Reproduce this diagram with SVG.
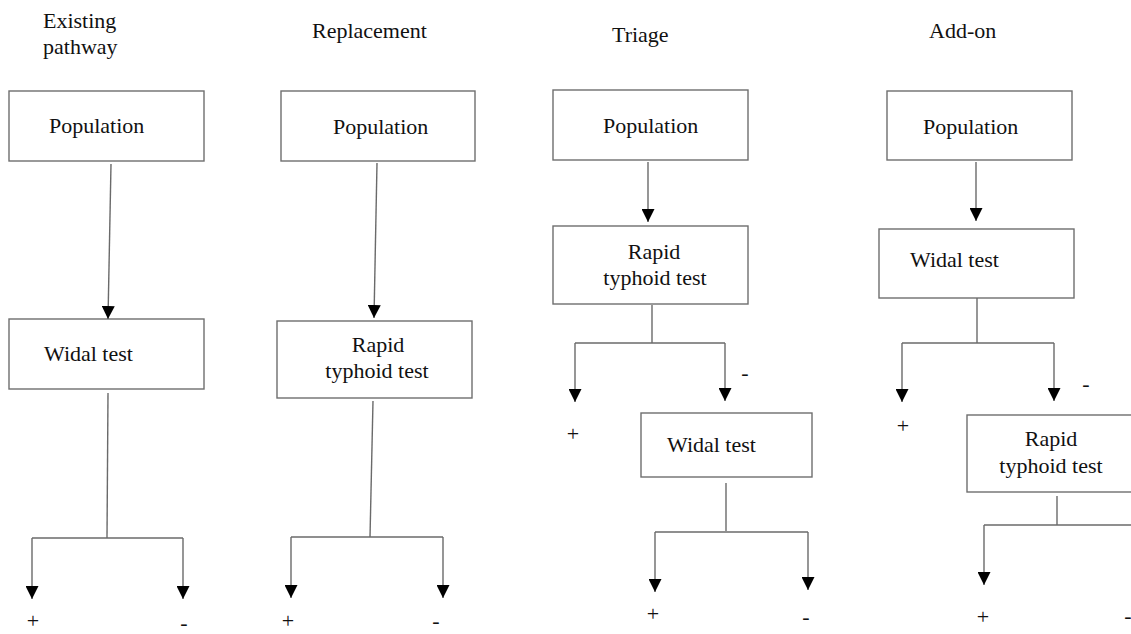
<svg xmlns="http://www.w3.org/2000/svg" width="1131" height="634" viewBox="0 0 1131 634">
<style>
.box{fill:#fff;stroke:#6e6e6e;stroke-width:1.4}
.ln{fill:none;stroke:#6a6a6a;stroke-width:1.4}
.t{font-family:"Liberation Serif","Times New Roman",serif;font-size:22px;fill:#111}
.s{font-family:"Liberation Serif","Times New Roman",serif;font-size:22px;fill:#111;text-anchor:middle}
.c{text-anchor:middle}
</style>
<defs>
<marker id="ah" markerUnits="userSpaceOnUse" markerWidth="13" markerHeight="13" refX="13" refY="6.5" orient="auto">
<path d="M0,0 L13,6.5 L0,13 z" fill="#000"/>
</marker>
</defs>
<rect width="1131" height="634" fill="#fff"/>

<g id="headers">
<text class="t" x="43" y="28">Existing</text>
<text class="t" x="43" y="54">pathway</text>
<text class="t" x="312" y="38">Replacement</text>
<text class="t" x="612" y="42">Triage</text>
<text class="t" x="929" y="38">Add-on</text>
</g>

<g id="c1-population"><rect class="box" x="9" y="91" width="195" height="70"/><text class="t" x="49" y="133">Population</text></g>
<g id="c1-widal"><rect class="box" x="9" y="319" width="195" height="70"/><text class="t" x="44" y="361">Widal test</text></g>

<g id="c2-population"><rect class="box" x="281" y="91" width="194" height="70"/><text class="t" x="333" y="134">Population</text></g>
<g id="c2-rapid"><rect class="box" x="277" y="321" width="195" height="77"/><text class="t c" x="378" y="352">Rapid</text><text class="t c" x="377" y="378">typhoid test</text></g>

<g id="c3-population"><rect class="box" x="553" y="90" width="195" height="70"/><text class="t" x="603" y="133">Population</text></g>
<g id="c3-rapid"><rect class="box" x="553" y="226" width="195" height="78"/><text class="t c" x="654" y="259">Rapid</text><text class="t c" x="655" y="285">typhoid test</text></g>
<g id="c3-widal"><rect class="box" x="641" y="413" width="171" height="64"/><text class="t" x="667" y="452">Widal test</text></g>

<g id="c4-population"><rect class="box" x="887" y="91" width="185" height="69"/><text class="t" x="923" y="134">Population</text></g>
<g id="c4-widal"><rect class="box" x="879" y="229" width="195" height="69"/><text class="t" x="910" y="267">Widal test</text></g>
<g id="c4-rapid"><rect class="box" x="967" y="415" width="200" height="77"/><text class="t c" x="1051" y="446">Rapid</text><text class="t c" x="1051" y="473">typhoid test</text></g>

<g id="connectors">
<!-- column 1 -->
<line class="ln" x1="111" y1="164" x2="108" y2="319" marker-end="url(#ah)"/>
<path class="ln" d="M108,393 L107,538"/>
<path class="ln" d="M32,538 L183,538"/>
<line class="ln" x1="32" y1="538" x2="32" y2="599" marker-end="url(#ah)"/>
<line class="ln" x1="183" y1="538" x2="183" y2="599" marker-end="url(#ah)"/>
<!-- column 2 -->
<line class="ln" x1="377" y1="163" x2="374" y2="318" marker-end="url(#ah)"/>
<path class="ln" d="M373,401 L370,537"/>
<path class="ln" d="M291,537 L443,537"/>
<line class="ln" x1="291" y1="537" x2="291" y2="598" marker-end="url(#ah)"/>
<line class="ln" x1="443" y1="537" x2="443" y2="598" marker-end="url(#ah)"/>
<!-- column 3 -->
<line class="ln" x1="648" y1="162" x2="648" y2="222" marker-end="url(#ah)"/>
<path class="ln" d="M652,305 L652,343"/>
<path class="ln" d="M575,343 L725,343"/>
<line class="ln" x1="575" y1="343" x2="575" y2="402" marker-end="url(#ah)"/>
<line class="ln" x1="725" y1="343" x2="725" y2="401" marker-end="url(#ah)"/>
<path class="ln" d="M726,483 L726,531"/>
<path class="ln" d="M655,532 L808,532"/>
<line class="ln" x1="655" y1="532" x2="655" y2="592" marker-end="url(#ah)"/>
<line class="ln" x1="808" y1="532" x2="808" y2="590" marker-end="url(#ah)"/>
<!-- column 4 -->
<line class="ln" x1="976" y1="162" x2="976" y2="221" marker-end="url(#ah)"/>
<path class="ln" d="M977,298 L977,343"/>
<path class="ln" d="M902,343 L1054,343"/>
<line class="ln" x1="902" y1="343" x2="902" y2="402" marker-end="url(#ah)"/>
<line class="ln" x1="1054" y1="343" x2="1054" y2="401" marker-end="url(#ah)"/>
<path class="ln" d="M1057,496 L1057,525"/>
<path class="ln" d="M984,525 L1140,525"/>
<line class="ln" x1="984" y1="525" x2="984" y2="585" marker-end="url(#ah)"/>
<line class="ln" x1="1137" y1="525" x2="1137" y2="584" marker-end="url(#ah)"/>
</g>

<g id="signs">
<text class="s" x="33" y="628">+</text>
<text class="s" x="184" y="630">-</text>
<text class="s" x="288" y="628">+</text>
<text class="s" x="436" y="628">-</text>
<text class="s" x="745" y="380">-</text>
<text class="s" x="573" y="441">+</text>
<text class="s" x="653" y="621">+</text>
<text class="s" x="806" y="624">-</text>
<text class="s" x="1086" y="391">-</text>
<text class="s" x="903" y="433">+</text>
<text class="s" x="983" y="624">+</text>
<text class="s" x="1128" y="623">-</text>
</g>
</svg>
